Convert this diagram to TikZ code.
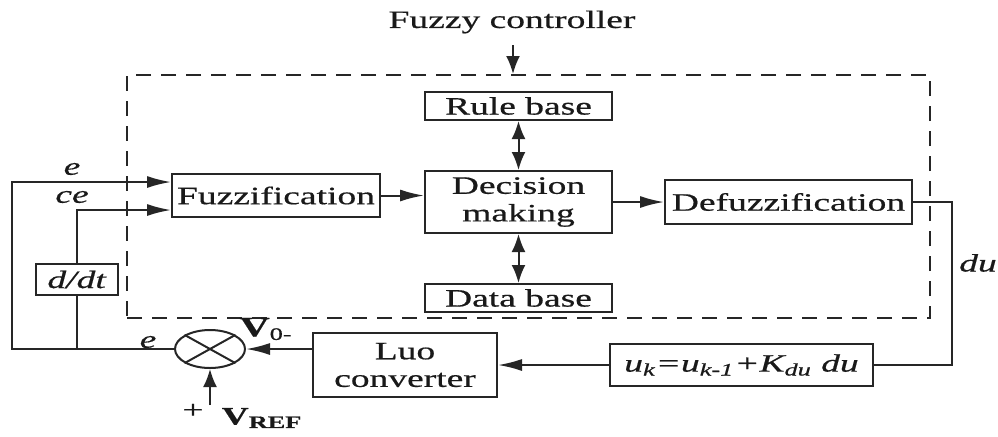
\documentclass[tikz,border=0pt]{standalone}
\usepackage{fontspec}
\newfontfamily\diagfont[FakeStretch=1.5,FakeBold=0.6]{Liberation Serif}
\usetikzlibrary{arrows.meta,shapes.geometric}
\tikzset{
every node/.style=
    {font=\fontsize{12.5}{13.8}\diagfont,
    text=black!90
    },
block/.style=
    {draw=black!85,
    line width=1pt,
    inner sep=0pt,
    align=center
    },
link/.style=
    {draw=black!85,
    line width=1pt
    },
hlink/.style={link,-{Latex[length=12pt,width=6pt]}},
vlink/.style={link,-{Latex[length=9pt,width=7pt]}},
dlink/.style={link,{Latex[length=9pt,width=7pt]}-{Latex[length=9pt,width=7pt]}}
}

\begin{document}
\begin{tikzpicture}[x=0.5pt,y=-0.5pt]
\useasboundingbox (0,0) rectangle (998,436);

% controller frame and its parts
\node[block,dashed,dash pattern=on 7.5pt off 5pt,minimum width=401.5pt,minimum height=121.5pt] (ctrl) at (528.5,196.5) {};
\node (title) at (512,22) {Fuzzy controller};
\node[block,minimum width=104pt,minimum height=21.5pt] (fuzz) at (276,195.5) {Fuzzification};
\node[block,minimum width=93.5pt,minimum height=14pt] (rule) at (518.5,106) {Rule base};
\node[block,minimum width=93.5pt,minimum height=31pt] (dec) at (518.5,202) {Decision\\making};
\node[block,minimum width=93.5pt,minimum height=14pt] (data) at (518.5,298) {Data base};
\node[block,minimum width=123.5pt,minimum height=22pt] (defuzz) at (788.5,202) {Defuzzification};
\coordinate (titlearr) at (513,45);

% feedback path
\node[block,minimum width=131.5pt,minimum height=21pt] (upd) at (741.5,365) {\textit{u\textsubscript{k}=u\textsubscript{k-1}+K\textsubscript{du} du}};
\node[block,minimum width=92pt,minimum height=32pt] (luo) at (405,365) {Luo\\converter};
\node[block,ellipse,minimum width=35pt,minimum height=19pt] (sum) at (210,349) {};
\node[block,minimum width=41pt,minimum height=15.5pt] (ddt) at (77,279.5) {\textit{d/dt}};
\coordinate (vref) at (210,405);

% labels
\node at (72,169) {\textit{e}};
\node at (72,197) {\textit{ce}};
\node at (148,342) {\textit{e}};
\node at (978,263) {\textit{du}};
\node at (266,329) {\fontsize{14}{14}\selectfont\textbf{V}\fontsize{12.5}{13.8}\selectfont\textsubscript{0-}};
\node at (193,411) {+};
\node at (262,418) {\textbf{V\textsubscript{REF}}};

% connectors
\draw[vlink] (titlearr) -- (ctrl.north -| titlearr);
\draw[dlink] (rule.south) -- (dec.north);
\draw[dlink] (dec.south) -- (data.north);
\draw[hlink] (fuzz.east) -- (fuzz.east -| dec.west);
\draw[hlink] (dec.east) -- (defuzz.west);
\draw[link] (defuzz.east) -- ++(39,0) |- (upd.east);
\draw[hlink] (upd.west) -- (luo.east);
\draw[hlink] (luo.west |- sum.east) -- (sum.east);
\draw[vlink] (vref) -- (sum.south);
\draw[link] (sum.north west) -- (sum.south east);
\draw[link] (sum.north east) -- (sum.south west);
\draw[hlink] (sum.west) -- (12,349) |- ([yshift=6.75pt]fuzz.west);
\draw[link] (ddt.south) -- (ddt.south |- sum.west);
\draw[hlink] (ddt.north) |- ([yshift=-7.25pt]fuzz.west);

\end{tikzpicture}
\end{document}
